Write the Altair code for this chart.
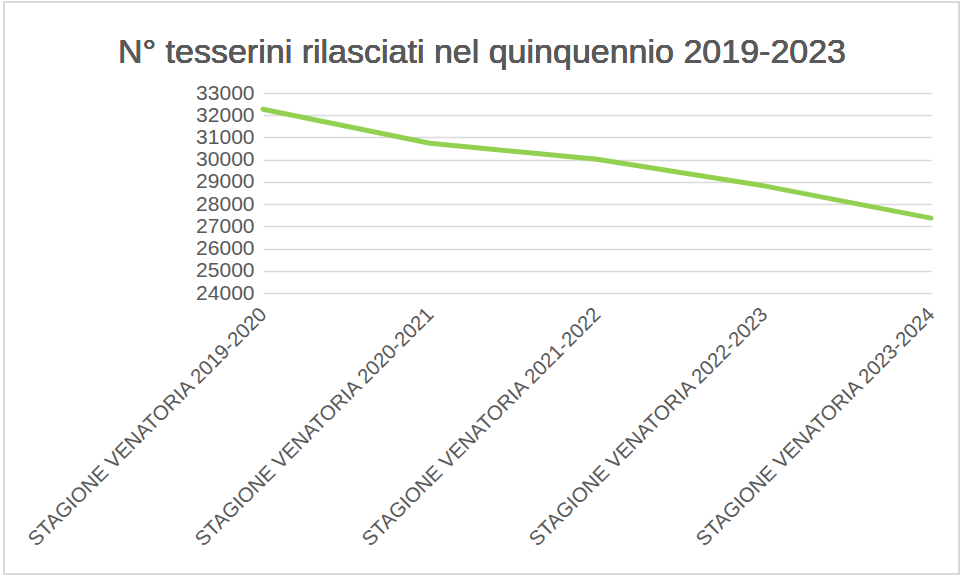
import altair as alt
import pandas as pd

stagioni = [
    "STAGIONE VENATORIA 2019-2020",
    "STAGIONE VENATORIA 2020-2021",
    "STAGIONE VENATORIA 2021-2022",
    "STAGIONE VENATORIA 2022-2023",
    "STAGIONE VENATORIA 2023-2024",
]
tesserini = [32270, 30740, 30020, 28820, 27370]
y_ticks = list(range(24000, 33001, 1000))
titolo = "N° tesserini rilasciati nel quinquennio 2019-2023"

df = pd.DataFrame({"stagione": stagioni, "tesserini": tesserini})

FONT = "Liberation Sans"
GREY = "#595959"

line = alt.Chart(df).mark_line(
    color="#92D050", strokeWidth=5, strokeCap="round", strokeJoin="round"
).encode(
    x=alt.X(
        "stagione:N",
        sort=stagioni,
        scale=alt.Scale(type="point", padding=0),
        axis=alt.Axis(
            title=None,
            labelAngle=-45,
            labelAlign="right",
            labelBaseline="middle",
            labelFontSize=20.4,
            labelFont=FONT,
            labelColor=GREY,
            labelPadding=18,
            labelLimit=0,
            labelOverlap=False,
            ticks=False,
            domain=False,
            grid=False,
        ),
    ),
    y=alt.Y(
        "tesserini:Q",
        scale=alt.Scale(domain=[24000, 33000], nice=False, zero=False),
        axis=alt.Axis(
            title=None,
            values=y_ticks,
            format="d",
            labelFontSize=21,
            labelFont=FONT,
            labelColor=GREY,
            labelPadding=9,
            ticks=False,
            domain=False,
            gridColor="#d9d9d9",
            gridWidth=1.5,
        ),
    ),
)

frame = alt.Chart(df).mark_rect(
    fill=None, stroke="#d9d9d9", strokeWidth=1.5
).encode(
    x=alt.value(4 - 263),
    x2=alt.value(959 - 263),
    y=alt.value(2 - 93),
    y2=alt.value(574 - 93),
)

title = alt.Chart(df).mark_text(
    font=FONT, fontSize=34, color=GREY, align="center", baseline="middle"
).encode(
    x=alt.value(482 - 263),
    y=alt.value(53 - 93),
    text=alt.value(titolo),
)

chart = alt.layer(frame, title, line).properties(
    width=668,
    height=200,
    autosize=alt.AutoSizeParams(type="none"),
    padding={"left": 263, "top": 93, "right": 32, "bottom": 283},
).configure_view(stroke=None)

chart.save("out.html", embed_options={"renderer": "svg", "actions": False})
